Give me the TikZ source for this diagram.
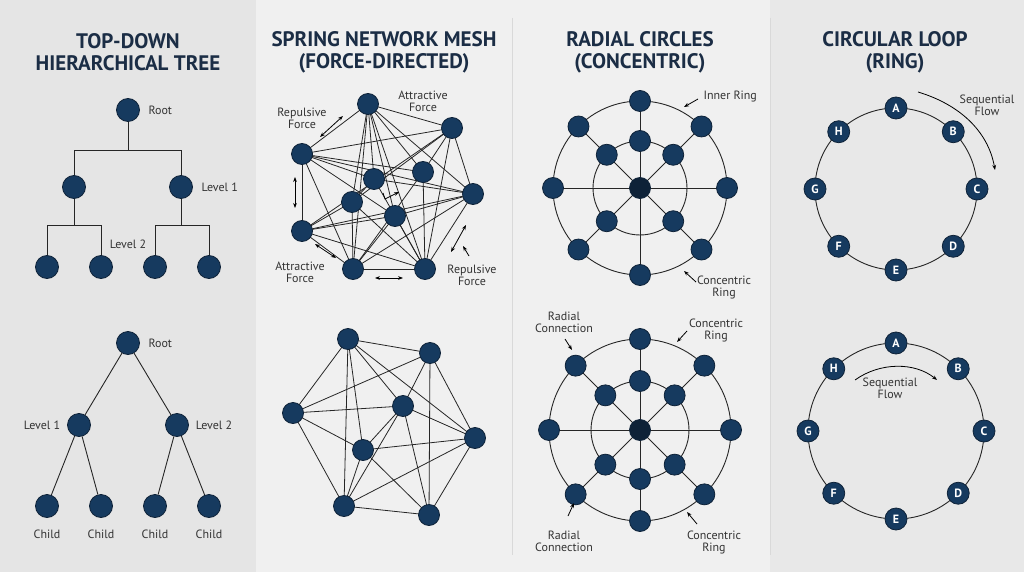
\documentclass[tikz,border=0pt]{standalone}
\usepackage{fontspec}
\setmainfont{PT Sans}
\usetikzlibrary{arrows.meta}
\definecolor{navy}{HTML}{163A5F}
\definecolor{navyd}{HTML}{0E2238}
\definecolor{ttl}{HTML}{1B2D45}
\begin{document}
\begin{tikzpicture}[x=1pt,y=-1pt,
  nd/.style={circle,fill=navy,draw=navyd,line width=0.8pt,minimum size=#1,inner sep=0pt},
  nd/.default=23pt,
  rn/.style={nd=22pt,text=white,font=\fontsize{12}{12}\selectfont\bfseries},
  ln/.style={line width=0.9pt,draw=black!85},
  lab/.style={font=\fontsize{12}{12}\selectfont,text=black!80,align=center},
  ttl/.style={font=\fontsize{21}{22}\selectfont\bfseries,text=ttl,align=center},
  dar/.style={line width=0.8pt,{Stealth[length=5pt]}-{Stealth[length=5pt]}},
  sar/.style={line width=0.8pt,-{Stealth[length=5pt]}}]
\useasboundingbox (0,0) rectangle (1024,572);
\fill[black!10] (0,0) rectangle (256,572);
\fill[black!6] (256,0) rectangle (770,572);
\fill[black!9] (770,0) rectangle (1024,572);
\draw[black!15,line width=0.6pt] (512,18) -- (512,555);
\draw[black!15,line width=0.6pt] (770,18) -- (770,555);
% titles
\node[ttl] (t1) at (128,52) {TOP-DOWN\\HIERARCHICAL TREE};
\node[ttl] (t2) at (384,52) {SPRING NETWORK MESH\\(FORCE-DIRECTED)};
\node[ttl] (t3) at (640,52) {RADIAL CIRCLES\\(CONCENTRIC)};
\node[ttl] (t4) at (895,52) {CIRCULAR LOOP\\(RING)};
% ---- tree 1
\node[nd] (r) at (128,110) {};
\node[nd] (a) at (74,187) {}; \node[nd] (b) at (181,187) {};
\node[nd] (a1) at (47,267) {}; \node[nd] (a2) at (101,267) {};
\node[nd] (b1) at (155,267) {}; \node[nd] (b2) at (209,267) {};
\draw[ln] (r) -- (128,150) -| (a); \draw[ln] (128,150) -| (b);
\draw[ln] (a) -- (74,225) -| (a1); \draw[ln] (74,225) -| (a2);
\draw[ln] (b) -- (181,225) -| (b1); \draw[ln] (181,225) -| (b2);
\node[lab,anchor=west] (lr) at (145,110) {Root};
\node[lab,anchor=west] (l1) at (198,187) {Level 1};
\node[lab] (l2) at (128,244) {Level 2};
% ---- tree 2
\node[nd] (R) at (128,343) {};
\node[nd] (A) at (79,425) {}; \node[nd] (B) at (177,425) {};
\node[nd] (A1) at (47,506) {}; \node[nd] (A2) at (101,506) {};
\node[nd] (B1) at (155,506) {}; \node[nd] (B2) at (209,506) {};
\draw[ln] (R)--(A) (R)--(B) (A)--(A1) (A)--(A2) (B)--(B1) (B)--(B2);
\node[lab,anchor=west] (LR) at (145,343) {Root};
\node[lab] (LA) at (42,425) {Level 1};
\node[lab] (LB) at (214,425) {Level 2};
\foreach \n in {A1,A2,B1,B2} \node[lab] (c\n) at ([yshift=-28]\n) {Child};
% ---- spring top
\foreach \n/\x/\y in {T/368/104,TR/452/128,L/302/154,C1/374/179,C2/423/172,R/473/194,C3/352/202,C4/395/216,BL/302/231,P1/353/269,P2/425/269}
  \coordinate (s\n) at (\x,\y);
\foreach \u/\v in {T/L,T/TR,T/C1,T/C3,T/C2,T/P1,T/P2,T/R,T/C4,L/TR,L/C1,L/C2,L/R,L/P1,L/BL,L/C4,TR/C2,TR/C3,TR/R,TR/P2,TR/BL,C1/C3,C1/R,C1/P2,C2/P1,C2/P2,R/C4,R/BL,R/P1,R/P2,C3/BL,C3/P1,C3/P2,C4/BL,C4/P1,C4/P2,BL/P1,BL/P2,P1/P2}
  \draw[ln,line width=0.8pt] (s\u) -- (s\v);
\foreach \n in {T,TR,L,C1,C2,R,C3,C4,BL,P1,P2} \node[nd=21pt] (n\n) at (s\n) {};
\draw[dar] (320,137) -- (343,116);
\draw[dar] (295,177) -- (295,208);
\draw[dar] (315,244) -- (336,258);
\draw[dar] (375,278) -- (403,278);
\draw[dar] (466,225) -- (451,252);
\draw[sar] (469,256) -- (463,246);
\draw[sar] (383,193) -- (385,199) -- (399,192);
\node[lab] (f1) at (302,118) {Repulsive\\Force};
\node[lab] (f2) at (423,101) {Attractive\\Force};
\node[lab] (f3) at (300,272) {Attractive\\Force};
\node[lab] (f4) at (472,275) {Repulsive\\Force};
% ---- spring bottom
\foreach \n/\x/\y in {A/348/339,B/430/353,L/293/413,C/403/406,R/475/438,D/363/450,E/344/506,F/429/515}
  \coordinate (m\n) at (\x,\y);
\foreach \u/\v in {A/B,A/L,A/E,A/D,A/C,A/R,B/L,B/C,B/F,B/R,L/C,L/D,L/E,C/E,C/F,C/R,C/D,D/R,D/F,D/E,E/R,E/F,F/R}
  \draw[ln,line width=0.8pt] (m\u) -- (m\v);
\foreach \n in {A,B,L,C,R,D,E,F} \node[nd=21pt] (k\n) at (m\n) {};
% ---- radial top
\coordinate (rc1) at (640,188);
\draw[ln] (rc1) circle (87); \draw[ln] (rc1) circle (47);
\foreach \a in {0,45,...,315} \draw[ln] (rc1) -- ++(\a:87) node[nd=21pt] (o1\a) {};
\foreach \a in {45,90,135,225,315} \node[nd=21pt] (i1\a) at ([shift={(-\a:47)}]rc1) {};
\node[nd=21pt,fill=navyd] (cc1) at (rc1) {};
\node[lab,anchor=west] (ir) at (700,97) {Inner Ring};
\draw[sar] (698,99) -- (684,107);
\node[lab] (cr1) at (724,287) {Concentric\\Ring};
\draw[sar] (696,282) -- (684,271);
% ---- radial bottom
\coordinate (rc2) at (640,430);
\draw[ln] (rc2) circle (91); \draw[ln] (rc2) circle (49);
\foreach \a in {0,45,...,315} \draw[ln] (rc2) -- ++(\a:91) node[nd=21pt] (o2\a) {};
\foreach \a in {45,90,135,225,270,315} \node[nd=21pt] (i2\a) at ([shift={(-\a:49)}]rc2) {};
\node[nd=21pt,fill=navyd] (cc2) at (rc2) {};
\node[lab] (rca) at (564,322) {Radial\\Connection};
\draw[sar] (565,339) -- (572,350);
\node[lab] (cra) at (716,330) {Concentric\\Ring};
\draw[sar] (687,331) -- (677,342);
\node[lab] (rcb) at (564,541) {Radial\\Connection};
\draw[sar] (568,516) -- (574,503);
\node[lab] (crb) at (714,542) {Concentric\\Ring};
\draw[sar] (697,524) -- (687,512);
% ---- ring top
\coordinate (g1) at (896,189);
\draw[ln] (g1) circle (81);
\foreach \l/\a in {A/90,B/45,C/0,D/-45,E/-90,F/-135,G/180,H/135}
  \node[rn] (p1\l) at ([shift={(-\a:81)}]g1) {\l};
\node[lab] (sf1) at (987,105) {Sequential\\Flow};
\draw[sar] (918,92) .. controls (958,104) and (988,130) .. (995,170);
% ---- ring bottom
\coordinate (g2) at (896,431);
\draw[ln] (g2) circle (88);
\foreach \l/\a in {A/90,B/45,C/0,D/-45,E/-90,F/-135,G/180,H/135}
  \node[rn] (p2\l) at ([shift={(-\a:88)}]g2) {\l};
\node[lab] (sf2) at (890,388) {Sequential\\Flow};
\draw[sar] (855,380) .. controls (880,362) and (915,362) .. (937,380);
\end{tikzpicture}
\end{document}
